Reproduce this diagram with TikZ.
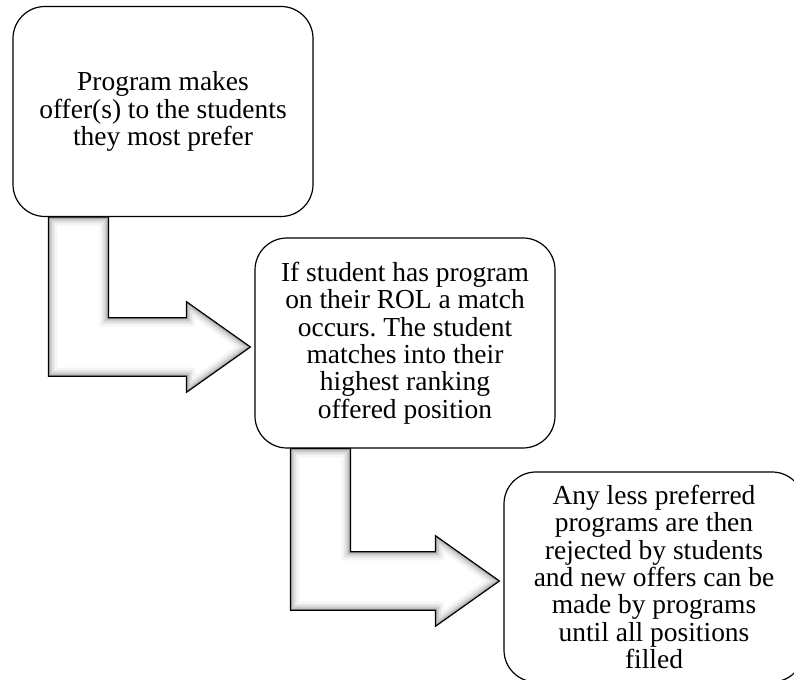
\documentclass[tikz,border=0pt]{standalone}
\usepackage{fontspec}
\setmainfont{Liberation Serif}
\usetikzlibrary{calc}
\frenchspacing
\newcommand{\bentarrow}[2]{%
\path (#1.south west) ++(36,0) coordinate (s) (#2.west) ++(-4,4) coordinate (t);
\def\ashape{let \p1=(s), \p2=(t) in (\x1,\y1) -- (\x1+45pt,\y1) -- (\x1+45pt,\y2+22pt) -- (\x2-48pt,\y2+22pt) -- (\x2-48pt,\y2+34pt) -- (\x2,\y2) -- (\x2-48pt,\y2-34pt) -- (\x2-48pt,\y2-22pt) -- (\x1,\y2-22pt) -- cycle}%
\begin{scope}
\clip \ashape;
\fill[white] \ashape;
\draw[gray!8,line width=13pt] \ashape;
\draw[gray!22,line width=9pt] \ashape;
\draw[gray!40,line width=5.5pt] \ashape;
\draw[gray!65,line width=2.5pt] \ashape;
\end{scope}
\draw[line width=0.9pt] \ashape;}

\begin{document}
\begin{tikzpicture}[x=0.75pt,y=-0.75pt,
stepbox/.style={draw,line width=0.9pt,rounded corners=24pt,minimum width=225pt,minimum height=157.5pt,align=center,font=\fontsize{20.6}{20.6}\selectfont}]
\useasboundingbox (0,0) rectangle (794,680);
\node[stepbox] (offer) at (163,111.5) {Program makes\\offer(s) to the students\\they most prefer};
\node[stepbox] (match) at (405,343) {If student has program\\on their ROL a match\\occurs. The student\\matches into their\\highest ranking\\offered position};
\node[stepbox] (reject) at (654,577) {Any less preferred\\programs are then\\rejected by students\\and new offers can be\\made by programs\\until all positions\\filled};
\bentarrow{offer}{match}
\bentarrow{match}{reject}
\end{tikzpicture}
\end{document}
